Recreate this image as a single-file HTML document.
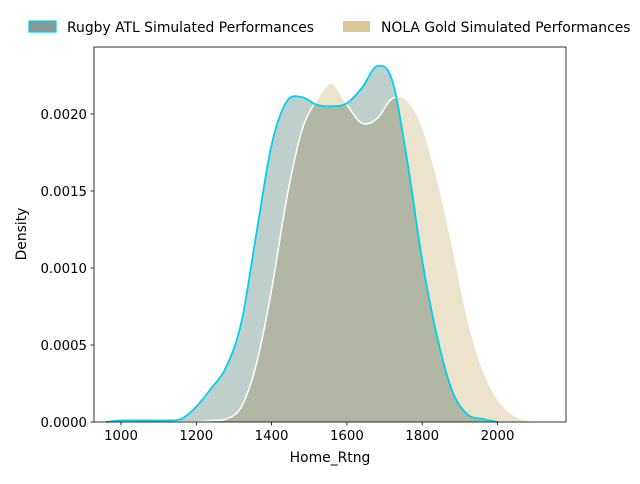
<!DOCTYPE html>
<html><head><meta charset="utf-8"><style>
body{margin:0;background:#fff;font-family:"DejaVu Sans","Liberation Sans",sans-serif;}
svg text{font-family:"DejaVu Sans","Liberation Sans",sans-serif;font-size:13.3px;fill:#000;}
svg text.big{font-size:13.9px;}
</style></head><body>
<svg id="chart" width="640" height="480">
<defs><clipPath id="blueclip"><path id="blueclipPath"/></clipPath></defs>
<rect width="640" height="480" fill="#fff"/>
<g id="plot"></g>
<g id="axes"></g>
<g>
<g>
<rect x="29" y="21" width="27" height="11" fill="#839d96" stroke="#00d0f0" stroke-width="1.2"/>
<text class="big" x="67" y="32">Rugby ATL Simulated Performances</text></g>
<g>
<rect x="343" y="21" width="27" height="11" fill="#dcc897"/>
<text class="big" x="381" y="32">NOLA Gold Simulated Performances</text></g>
</g>
<text class="big" x="330" y="462" text-anchor="middle">Home_Rtng</text>
<text class="big" transform="translate(26,234) rotate(-90)" text-anchor="middle">Density</text>
</svg>
<script>
const rugbyX=[960,1000,1040,1080,1120,1160,1200,1240,1280,1320,1360,1400,1440,1480,1520,1560,1600,1640,1680,1720,1760,1800,1840,1880,1920,1960,2000];
const rugbyY=[0,0.00001,0.00001,0.00001,0.00001,0.00002,0.0001,0.00022,0.00036,0.00065,0.00123,0.0018,0.00208,0.00211,0.00206,0.00205,0.00207,0.00217,0.00231,0.00222,0.0017,0.00105,0.00055,0.0002,0.00005,0.00002,0];
const nolaX=[1120,1160,1200,1240,1280,1320,1360,1400,1440,1480,1520,1560,1600,1640,1680,1720,1760,1800,1840,1880,1920,1960,2000,2040,2080,2120];
const nolaY=[0,0,0,0.00001,0.00002,0.0001,0.00038,0.00086,0.00145,0.00189,0.00209,0.0022,0.00206,0.00194,0.00197,0.0021,0.00209,0.00192,0.00158,0.00115,0.00068,0.00035,0.00015,0.00005,0.00001,0];
const xTicks=[1000,1200,1400,1600,1800,2000];
const yTicks=[0,0.0005,0.0010,0.0015,0.0020];
const yTickLabels=["0.0000","0.0005","0.0010","0.0015","0.0020"];
const L=94,R=566,T=47,B=422;
function sx(v){return 121+(v-1000)*75.3/200;}
function sy(v){return B-v*154000;}
const NS="http://www.w3.org/2000/svg";
function smooth(xs,ys){
  const p=xs.map((x,i)=>[sx(x),sy(ys[i])]);
  let d="M"+p[0][0]+","+p[0][1];
  for(let i=0;i<p.length-1;i++){
    const p0=p[i-1]||p[i],p1=p[i],p2=p[i+1],p3=p[i+2]||p[i+1];
    const c1=[p1[0]+(p2[0]-p0[0])/6,Math.min(B,p1[1]+(p2[1]-p0[1])/6)];
    const c2=[p2[0]-(p3[0]-p1[0])/6,Math.min(B,p2[1]-(p3[1]-p1[1])/6)];
    d+=` C${c1[0]},${c1[1]} ${c2[0]},${c2[1]} ${p2[0]},${p2[1]}`;
  }
  return d;
}
const plot=document.getElementById("plot");
function mk(tag,attrs){const e=document.createElementNS(NS,tag);for(const k in attrs)e.setAttribute(k,attrs[k]);return e;}
const rl=smooth(rugbyX,rugbyY), nl=smooth(nolaX,nolaY);
document.getElementById("blueclipPath").setAttribute("d",rl+" Z");
let e=mk("path",{d:nl+" Z",fill:"#ebe3cc"});


plot.appendChild(e);
e=mk("path",{d:rl+" Z",fill:"#bfcfcc"});


plot.appendChild(e);
e=mk("path",{d:nl+" Z",fill:"#b1b7a2","clip-path":"url(#blueclip)"});


plot.appendChild(e);
e=mk("path",{d:nl,fill:"none",stroke:"#fff","stroke-width":"1.5"});


plot.appendChild(e);
e=mk("path",{d:rl,fill:"none",stroke:"#00d0f0","stroke-width":"1.8"});


plot.appendChild(e);
const ax=document.getElementById("axes");
e=mk("rect",{x:L,y:T,width:R-L,height:B-T,fill:"none",stroke:"#000","stroke-width":"0.8"});


ax.appendChild(e);
xTicks.forEach(v=>{
  const x=sx(v);
  ax.appendChild(mk("line",{x1:x,x2:x,y1:B,y2:B+3.5,stroke:"#000","stroke-width":"0.8"}));
  const t=mk("text",{x:x,y:B+18,"text-anchor":"middle"});t.textContent=v;
  
  
  ax.appendChild(t);
});
yTicks.forEach((v,i)=>{
  const y=sy(v);
  ax.appendChild(mk("line",{x1:L-3.5,x2:L,y1:y,y2:y,stroke:"#000","stroke-width":"0.8"}));
  const t=mk("text",{x:L-7,y:y+4.8,"text-anchor":"end"});t.textContent=yTickLabels[i];
  
  
  ax.appendChild(t);
});
</script>
</body></html>
